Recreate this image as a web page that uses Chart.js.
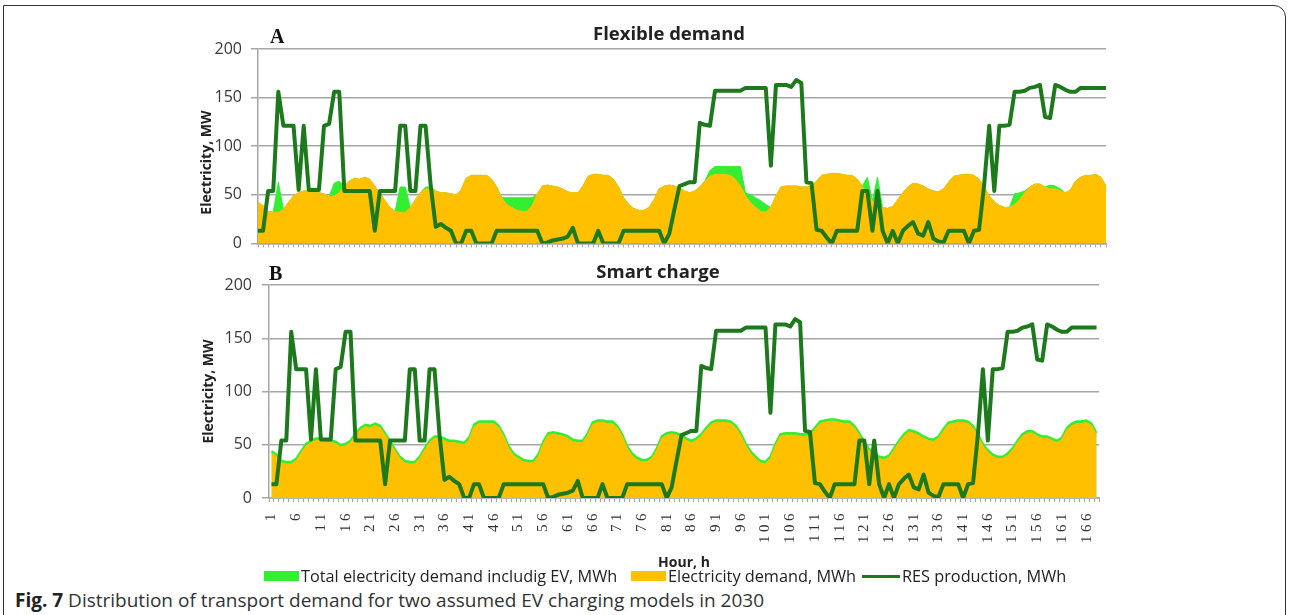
<!DOCTYPE html>
<html>
<head>
<meta charset="utf-8">
<script src="https://cdn.jsdelivr.net/npm/chart.js@4.4.1/dist/chart.umd.min.js"></script>
<style>
  html, body { margin: 0; padding: 0; background: #fff; }
  body { width: 1292px; height: 615px; position: relative; overflow: hidden; font-family: "Open Sans", sans-serif; color: #222; }
  .frame { position: absolute; left: 3px; top: 5px; width: 1283px; height: 640px; border: 1.5px solid #333; border-radius: 0 12px 0 0; box-sizing: border-box; }
  canvas { position: absolute; left: 0; }
  .letter { position: absolute; font: bold 20px "Liberation Serif", serif; line-height: 20px; color: #111; }
  .ptitle { position: absolute; font: bold 18.5px "Open Sans", sans-serif; line-height: 20px; color: #222; transform: translateX(-50%); white-space: nowrap; }
  .legend-item { position: absolute; top: 566px; display: flex; align-items: center; font-size: 16.3px; line-height: 20px; color: #222; white-space: nowrap; }
  .legend-item .key { display: inline-block; flex: none; margin-right: 2px; }
  .caption { position: absolute; left: 15px; top: 588px; font-size: 19px; line-height: 24px; color: #333; white-space: nowrap; }
  .caption b { color: #222; }
</style>
</head>
<body>
<div class="frame"></div>
<canvas id="chartA" width="1292" height="262" style="top:0"></canvas>
<canvas id="chartB" width="1292" height="322" style="top:250px"></canvas>
<div class="letter" style="left:270px; top:26px">A</div>
<div class="letter" style="left:269px; top:263px">B</div>
<div class="ptitle" style="left:669px; top:23px">Flexible demand</div>
<div class="ptitle" style="left:658px; top:261px">Smart charge</div>
<div id="legend"></div>
<div class="caption"><b>Fig. 7</b> Distribution of transport demand for two assumed EV charging models in 2030</div>
<script>
// hours 1..168
const HOURS = [];
for (let h = 1; h <= 168; h++) HOURS.push(String(h));

// RES production, MWh (same in both panels)
const RES = [
  13, 13, 54, 54, 156, 121, 121, 121, 55, 121,
  55, 55, 55, 121, 123, 156, 156, 54, 54, 54,
  54, 54, 54, 13, 54, 54, 54, 54, 121, 121,
  54, 54, 121, 121, 60, 17, 20, 16, 13, 0,
  0, 13, 13, 0, 0, 0, 0, 13, 13, 13,
  13, 13, 13, 13, 13, 13, 0, 1, 3, 4,
  5, 7, 16, 0, 0, 0, 0, 13, 0, 0,
  0, 0, 13, 13, 13, 13, 13, 13, 13, 13,
  0, 10, 35, 59, 61, 63, 63, 124, 122, 121,
  157, 157, 157, 157, 157, 157, 160, 160, 160, 160,
  160, 80, 163, 163, 163, 161, 168, 165, 63, 62,
  14, 13, 6, 0, 13, 13, 13, 13, 13, 54,
  54, 13, 54, 13, 0, 13, 0, 13, 18, 22,
  10, 8, 22, 5, 2, 1, 13, 13, 13, 13,
  0, 13, 14, 60, 121, 54, 121, 121, 122, 156,
  156, 157, 160, 161, 163, 130, 129, 163, 161, 158,
  156, 156, 160, 160, 160, 160, 160, 160
];

// Electricity demand, MWh (same in both panels)
const DEMAND = [
  42, 39, 33, 32, 32, 35, 42, 49, 52, 54,
  54, 52, 52, 51, 48, 49, 52, 59, 64, 67,
  66, 68, 66, 59, 52, 44, 37, 33, 32, 32,
  37, 45, 52, 56, 56, 54, 52, 52, 51, 50,
  55, 67, 70, 70, 70, 70, 66, 58, 47, 40,
  37, 34, 33, 33, 39, 51, 59, 60, 59, 58,
  56, 53, 52, 52, 59, 69, 71, 71, 70, 70,
  66, 58, 47, 40, 36, 34, 34, 37, 45, 56,
  59, 60, 59, 57, 54, 52, 54, 58, 64, 69,
  71, 71, 71, 70, 66, 59, 49, 42, 37, 33,
  32, 37, 49, 58, 59, 59, 59, 58, 58, 59,
  64, 70, 71, 72, 72, 71, 70, 70, 66, 59,
  51, 44, 40, 37, 36, 38, 45, 52, 58, 62,
  61, 59, 56, 54, 53, 56, 63, 69, 70, 71,
  71, 70, 66, 58, 49, 43, 39, 37, 37, 40,
  45, 52, 58, 61, 61, 58, 56, 56, 54, 52,
  55, 64, 68, 70, 70, 71, 68, 59
];

// Total electricity demand incl. EV, MWh — A: flexible demand
const TOTAL_FLEX = [
  42, 39, 33, 32, 63, 35, 42, 49, 52, 54,
  54, 52, 52, 51, 48, 62, 64, 59, 64, 67,
  66, 68, 66, 59, 52, 44, 37, 33, 58, 58,
  37, 45, 52, 58, 58, 54, 52, 52, 51, 50,
  55, 67, 70, 70, 70, 70, 66, 58, 47, 47,
  47, 47, 47, 47, 47, 51, 59, 60, 59, 58,
  56, 53, 52, 52, 59, 69, 71, 71, 70, 70,
  66, 58, 47, 40, 36, 34, 34, 37, 45, 56,
  59, 60, 59, 57, 54, 52, 54, 58, 64, 75,
  79, 79, 79, 79, 79, 79, 52, 50, 47, 44,
  40, 37, 49, 58, 59, 59, 59, 58, 58, 59,
  64, 70, 71, 72, 72, 71, 70, 70, 66, 59,
  68, 44, 68, 37, 36, 38, 45, 52, 58, 62,
  61, 59, 56, 54, 53, 56, 63, 69, 70, 71,
  71, 70, 66, 58, 49, 43, 39, 37, 37, 51,
  52, 54, 58, 61, 61, 58, 60, 59, 56, 52,
  55, 64, 68, 70, 70, 71, 68, 59
];

// Total electricity demand incl. EV, MWh — B: smart charge
const TOTAL_SMART = [
  44, 41, 35, 34, 34, 37, 44, 51, 54, 56,
  56, 54, 54, 53, 50, 51, 54, 61, 66, 69,
  68, 70, 68, 61, 54, 46, 39, 35, 34, 34,
  39, 47, 54, 58, 58, 56, 54, 54, 53, 52,
  57, 69, 72, 72, 72, 72, 68, 60, 49, 42,
  39, 36, 35, 35, 41, 53, 61, 62, 61, 60,
  58, 55, 54, 54, 61, 71, 73, 73, 72, 72,
  68, 60, 49, 42, 38, 36, 36, 39, 47, 58,
  61, 62, 61, 59, 56, 54, 56, 60, 66, 71,
  73, 73, 73, 72, 68, 61, 51, 44, 39, 35,
  34, 39, 51, 60, 61, 61, 61, 60, 60, 61,
  66, 72, 73, 74, 74, 73, 72, 72, 68, 61,
  53, 46, 42, 39, 38, 40, 47, 54, 60, 64,
  63, 61, 58, 56, 55, 58, 65, 71, 72, 73,
  73, 72, 68, 60, 51, 45, 41, 39, 39, 42,
  47, 54, 60, 63, 63, 60, 58, 58, 56, 54,
  57, 66, 70, 72, 72, 73, 70, 61
];

const Y_TICKS = [0, 50, 100, 150, 200];

const SERIES = [
  { label: 'Total electricity demand includig EV, MWh', color: '#33ee33', kind: 'area' },
  { label: 'Electricity demand, MWh', color: '#ffc000', kind: 'area' },
  { label: 'RES production, MWh', color: '#1c7a1c', kind: 'line' },
];

const GRID = '#a6a6a6';
const TICK_FONT = { family: '"Open Sans", sans-serif', size: 16 };
const TITLE_FONT = { family: '"Open Sans", sans-serif', size: 14, weight: 'bold' };

// the hour labels of the source are drawn stretched; widen them with letter spacing
const spacedHourLabels = {
  id: 'spacedHourLabels',
  afterLayout(chart, args, opts) {
    const sc = chart.scales.x;
    if (!opts.spacing || sc._spaced) return;
    const drawLabels = sc.drawLabels.bind(sc);
    sc.drawLabels = function (area) {
      this.ctx.save();
      this.ctx.letterSpacing = opts.spacing;
      drawLabels(area);
      this.ctx.restore();
    };
    sc._spaced = true;
  },
};

function makePanel(canvasId, total, cfg) {
  return new Chart(document.getElementById(canvasId), {
    type: 'line',
    plugins: [spacedHourLabels],
    data: {
      labels: HOURS,
      datasets: [
        {
          label: SERIES[2].label, data: RES, order: 0,
          borderColor: SERIES[2].color, borderWidth: 4,
          borderJoinStyle: 'round', pointRadius: 0, fill: false,
        },
        {
          label: SERIES[1].label, data: DEMAND, order: 1,
          borderColor: SERIES[1].color, backgroundColor: SERIES[1].color,
          borderWidth: 1, pointRadius: 0, fill: 'origin',
        },
        {
          label: SERIES[0].label, data: total, order: 2,
          borderColor: SERIES[0].color, backgroundColor: SERIES[0].color,
          borderWidth: cfg.totalLine, pointRadius: 0, fill: 'origin',
        },
      ],
    },
    options: {
      responsive: false,
      animation: false,
      devicePixelRatio: 1,
      layout: { padding: cfg.padding },
      plugins: {
        legend: { display: false },
        tooltip: { enabled: false },
        spacedHourLabels: { spacing: cfg.labelSpacing },
      },
      scales: {
        x: {
          type: 'category',
          offset: cfg.offset,
          grid: { display: true, drawOnChartArea: false, drawTicks: true, tickLength: 4, color: GRID, lineWidth: 1, offset: cfg.offset },
          border: { display: true, color: GRID, width: 1.5 },
          ticks: cfg.xTicks,
          title: cfg.xTitle,
          afterFit: s => { s.height = cfg.xHeight; },
        },
        y: {
          min: 0, max: 200,
          afterBuildTicks: s => { s.ticks = Y_TICKS.map(v => ({ value: v })); },
          grid: { color: GRID, lineWidth: 1.5, drawTicks: true, tickLength: 7 },
          border: { display: true, color: GRID, width: 1.5 },
          ticks: { font: TICK_FONT, color: '#3a3a3a', padding: cfg.yPad },
          title: { display: true, text: cfg.yTitle, font: TITLE_FONT, color: '#222', padding: 0 },
          afterFit: s => { s.width = cfg.yWidth; },
        },
      },
    },
  });
}

// A: chart area 258..1106 x 49..244
makePanel('chartA', TOTAL_FLEX, {
  totalLine: 1,
  offset: false,
  padding: { left: 199, right: 186, top: 49, bottom: 0 },
  yWidth: 59,
  yPad: 9,
  yTitle: 'Electricity, MW         ',
  xHeight: 18,
  xTicks: { display: false },
  xTitle: { display: false },
  labelSpacing: null,
});

// B: chart area 269..1099 x 285..498 (canvas top 250)
makePanel('chartB', TOTAL_SMART, {
  totalLine: 2,
  offset: true,
  padding: { left: 201, right: 193, top: 35, bottom: 0 },
  yWidth: 68,
  yPad: 10,
  yTitle: 'Electricity, MW',
  xHeight: 322 - 248,
  xTicks: {
    autoSkip: false, minRotation: 90, maxRotation: 90, padding: 8,
    font: { family: '"Liberation Serif", serif', size: 15 }, color: '#333',
    callback: (v, i) => (i % 5 === 0 ? HOURS[i] : ''),
  },
  xTitle: { display: true, text: 'Hour, h', font: TITLE_FONT, color: '#222', padding: { top: 0, bottom: 1 } },
  labelSpacing: '3.5px',
});

// legend
const LEGEND_X = [264, 631, 862];
const KEY_SIZE = { area: [35, 10], line: [38, 3] };
const legend = document.getElementById('legend');
SERIES.forEach((s, i) => {
  const item = document.createElement('div');
  item.className = 'legend-item';
  item.style.left = LEGEND_X[i] + 'px';
  const key = document.createElement('span');
  key.className = 'key';
  key.style.background = s.color;
  key.style.width = KEY_SIZE[s.kind][0] + 'px';
  key.style.height = KEY_SIZE[s.kind][1] + 'px';
  item.appendChild(key);
  item.appendChild(document.createTextNode(s.label));
  legend.appendChild(item);
});
</script>
</body>
</html>
